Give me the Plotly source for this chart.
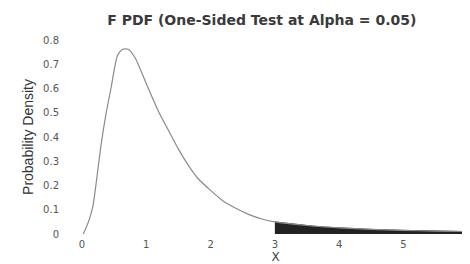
import plotly.graph_objects as go

# Values
x_curve = [0.02, 0.10, 0.17, 0.23, 0.29, 0.37, 0.45, 0.55, 0.63, 0.72, 0.83, 1.00, 1.20, 1.35, 1.50,
           1.65, 1.80, 2.00, 2.20, 2.40, 2.60, 2.80, 3.00, 3.50, 4.00, 4.50, 5.00, 5.50, 6.00]
y_curve = [0.00, 0.05, 0.115, 0.23, 0.355, 0.49, 0.60, 0.735, 0.762, 0.762, 0.725, 0.62, 0.50, 0.425, 0.35,
           0.285, 0.23, 0.18, 0.135, 0.105, 0.080, 0.062, 0.050, 0.035, 0.025, 0.019, 0.015, 0.012, 0.010]

x_tail = [3.00, 3.25, 3.50, 3.75, 4.00, 4.50, 5.00, 5.50, 6.00]
y_tail = [0.050, 0.041, 0.035, 0.029, 0.025, 0.019, 0.015, 0.012, 0.010]

x_ticks = [0, 1, 2, 3, 4, 5, 6]
x_tick_text = ["0", "1", "2", "3", "4", "5", "6"]
y_ticks = [0, 0.1, 0.2, 0.3, 0.4, 0.5, 0.6, 0.7, 0.8]
y_tick_text = ["0", "0.1", "0.2", "0.3", "0.4", "0.5", "0.6", "0.7", "0.8"]

title_text = "<b>F PDF (One-Sided Test at Alpha = 0.05)</b>"

fig = go.Figure()
fig.add_trace(go.Scatter(x=x_tail, y=y_tail, mode="lines", fill="tozeroy",
                         fillcolor="#222222", line=dict(color="#333333", width=1),
                         showlegend=False, hoverinfo="skip"))
fig.add_trace(go.Scatter(x=x_curve, y=y_curve, mode="lines",
                         line=dict(color="#8a8a8a", width=1.2, shape="spline", smoothing=0.6),
                         showlegend=False))

fig.update_layout(
    width=470, height=264,
    margin=dict(l=74, r=9, t=32, b=38, autoexpand=False),
    paper_bgcolor="white", plot_bgcolor="white",
    title=dict(text=title_text, x=0.54, xanchor="center", y=0.955, yanchor="middle",
               font=dict(family="DejaVu Sans", size=14, color="#3a3a3a")),
    xaxis=dict(range=[0, 6.02], tickmode="array", tickvals=x_ticks, ticktext=x_tick_text, automargin=False,
               showgrid=False, zeroline=False, showline=False,
               ticks="outside", ticklen=1, tickcolor="rgba(0,0,0,0)", ticklabeloverflow="allow",
               tickfont=dict(family="DejaVu Sans", size=10, color="#555555"),
               title=dict(text="X", standoff=0, font=dict(family="DejaVu Sans", size=12, color="#444444"))),
    yaxis=dict(range=[0, 0.8], tickvals=y_ticks, ticktext=y_tick_text, automargin=False,
               showgrid=False, zeroline=False,
               showline=False, ticks="", ticklabelstandoff=22,
               tickfont=dict(family="DejaVu Sans", size=10, color="#555555"),
               title=dict(text="Probability Density", standoff=6,
                          font=dict(family="Liberation Sans Narrow, Liberation Sans", size=14, color="#333333"))),
)

fig.write_html("out.html")
